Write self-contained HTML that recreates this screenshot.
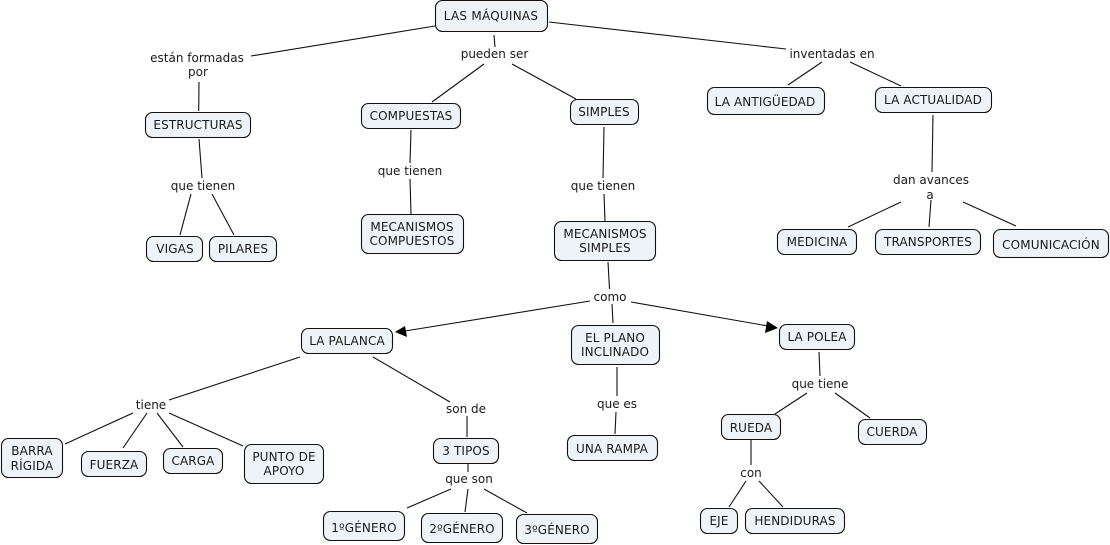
<!DOCTYPE html>
<html><head><meta charset="utf-8"><style>
html,body{margin:0;padding:0;background:#fff}
svg{display:block}
.n{fill:#edf3f6;stroke:#111;stroke-width:1.1}
.l{stroke:#111;stroke-width:1.1;fill:none}
text{font-family:"DejaVu Sans",sans-serif;font-size:12px;fill:#1a1a1a;text-anchor:middle}
.c text{letter-spacing:.12px}
</style></head><body>
<svg width="1110" height="545" viewBox="0 0 1110 545" xmlns="http://www.w3.org/2000/svg">
<g class="l">
<path class="l" d="M435 26L251 56M494 35L495 47M484 64L432 102M512 64L576 99M549 22L786 49M822 62L788 85M850 62L901 86"/>
<path class="l" d="M199 82L198.700 111M199 139L202 178M191 194L180 235M212 194L234 235"/>
<path class="l" d="M411 130L410 163M410 179L411 214"/>
<path class="l" d="M604 127L603 178M604 194L605 221M608 262L609.500 289M612 304L613 323"/>
<path class="l" d="M933 115L932 172M901 202L848 227M931 200L929 227M963 202L1016 226"/>
<path class="l" d="M590 301L405 331M631 302L768 326"/>
<path class="l" d="M300 357L169 400M373 357L450 402M133 413L65 444M147 413L123 448M157 413L183 447M169 413L243 446"/>
<path class="l" d="M467 416L467 437M468 464L468 472M451 489L407 508M468 489L465 512M484 489L527 513"/>
<path class="l" d="M617 367L617 396M616 412L615 434"/>
<path class="l" d="M819 352L820 376M807 393L775 414M835 393L870 418M751 440L751 465M746 481L729 507M759 481L783 507"/>
</g>
<polygon fill="#000" points="395,332 405,326 407,337"/>
<polygon fill="#000" points="778,328 767,321 765,333"/>
<g>
<rect class="n" x="435.500" y="0.500" width="112" height="31" rx="7"/>
<rect class="n" x="145.500" y="112.500" width="105" height="25" rx="7"/>
<rect class="n" x="361.500" y="103.500" width="99" height="25" rx="7"/>
<rect class="n" x="570.500" y="99.500" width="68" height="25" rx="7"/>
<rect class="n" x="707.500" y="87.500" width="117" height="27" rx="7"/>
<rect class="n" x="875.500" y="87.500" width="116" height="25" rx="7"/>
<rect class="n" x="146.500" y="236.500" width="56" height="25" rx="7"/>
<rect class="n" x="209.500" y="236.500" width="67" height="25" rx="7"/>
<rect class="n" x="361.500" y="214.500" width="102" height="39" rx="7"/>
<rect class="n" x="554.500" y="221.500" width="101" height="39" rx="7"/>
<rect class="n" x="777.500" y="229.500" width="79" height="25" rx="7"/>
<rect class="n" x="875.500" y="229.500" width="105" height="25" rx="7"/>
<rect class="n" x="993.500" y="229.500" width="115" height="28" rx="7"/>
<rect class="n" x="301.500" y="328.500" width="91" height="25" rx="7"/>
<rect class="n" x="571.500" y="325.500" width="88" height="39" rx="7"/>
<rect class="n" x="779.500" y="324.500" width="75" height="25" rx="7"/>
<rect class="n" x="1.500" y="438.500" width="61" height="39" rx="7"/>
<rect class="n" x="81.500" y="451.500" width="65" height="25" rx="7"/>
<rect class="n" x="163.500" y="448.500" width="59" height="25" rx="7"/>
<rect class="n" x="244.500" y="444.500" width="79" height="39" rx="7"/>
<rect class="n" x="433.500" y="438.500" width="65" height="25" rx="7"/>
<rect class="n" x="567.500" y="435.500" width="90" height="25" rx="7"/>
<rect class="n" x="721.500" y="414.500" width="59" height="25" rx="7"/>
<rect class="n" x="858.500" y="419.500" width="68" height="25" rx="7"/>
<rect class="n" x="323.500" y="511.500" width="81" height="29" rx="7"/>
<rect class="n" x="421.500" y="513.500" width="81" height="29" rx="7"/>
<rect class="n" x="516.500" y="514.500" width="81" height="29" rx="7"/>
<rect class="n" x="700.500" y="508.500" width="37" height="25" rx="7"/>
<rect class="n" x="745.500" y="508.500" width="99" height="25" rx="7"/>
</g>
<g>
<text x="197" y="62">están formadas</text><text x="198" y="76">por</text>
<text x="494.500" y="58">pueden ser</text>
<text x="832" y="58">inventadas en</text>
<text x="203" y="190">que tienen</text>
<text x="410" y="175">que tienen</text>
<text x="603" y="190">que tienen</text>
<text x="931" y="184">dan avances</text><text x="930" y="199">a</text>
<text x="610" y="301">como</text>
<text x="820" y="388">que tiene</text>
<text x="151" y="409">tiene</text>
<text x="466" y="413">son de</text>
<text x="617" y="408">que es</text>
<text x="751" y="477">con</text>
<text x="469" y="483">que son</text>
</g>
<g class="c">
<text x="491" y="20" style="letter-spacing:.25px">LAS MÁQUINAS</text>
<text x="198" y="129">ESTRUCTURAS</text>
<text x="411" y="120">COMPUESTAS</text>
<text x="604" y="116">SIMPLES</text>
<text x="765" y="106">LA ANTIGÜEDAD</text>
<text x="933" y="104">LA ACTUALIDAD</text>
<text x="175" y="253">VIGAS</text>
<text x="243" y="253">PILARES</text>
<text x="412" y="231">MECANISMOS</text><text x="412" y="245">COMPUESTOS</text>
<text x="605" y="238">MECANISMOS</text><text x="605" y="252">SIMPLES</text>
<text x="817" y="246">MEDICINA</text>
<text x="928" y="246">TRANSPORTES</text>
<text x="1051" y="249">COMUNICACIÓN</text>
<text x="347" y="345">LA PALANCA</text>
<text x="615" y="342">EL PLANO</text><text x="615" y="356">INCLINADO</text>
<text x="817" y="341">LA POLEA</text>
<text x="32" y="455">BARRA</text><text x="32" y="470">RÍGIDA</text>
<text x="114" y="469">FUERZA</text>
<text x="193" y="465">CARGA</text>
<text x="284" y="461">PUNTO DE</text><text x="284" y="475">APOYO</text>
<text x="466" y="455">3 TIPOS</text>
<text x="612" y="453">UNA RAMPA</text>
<text x="751" y="432">RUEDA</text>
<text x="892" y="436">CUERDA</text>
<text x="364" y="532">1ºGÉNERO</text>
<text x="462" y="533">2ºGÉNERO</text>
<text x="557" y="534">3ºGÉNERO</text>
<text x="719" y="525">EJE</text>
<text x="795" y="525">HENDIDURAS</text>
</g>
</svg>
</body></html>
